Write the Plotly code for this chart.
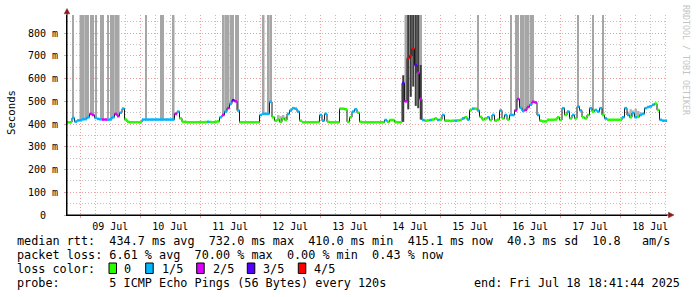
import pandas as pd
import plotly.graph_objects as go

# ---------------- data ----------------
start = pd.Timestamp("2025-07-08 18:41:44")
end = pd.Timestamp("2025-07-18 18:41:44")

# hourly median RTT (ms), starting at `start`
median_ms = [
    # 08/09 Jul
    408, 408, 427, 411, 416, 417, 421, 422, 430, 445,
    440, 427, 423, 421, 420, 420, 419, 421, 430, 445,
    435, 450, 468, 420, 410, 408, 408, 408, 408, 408,
    420, 420, 420, 420, 420, 420, 420, 420, 420, 420,
    420, 420, 420, 445, 455, 425, 410, 409,
    # 10/11 Jul
    408, 408, 408, 408, 408, 409, 408, 409, 410, 409,
    408, 410, 412, 430, 440, 455, 470, 490, 505, 500,
    460, 408, 408, 408, 408, 408, 408, 408, 408, 440,
    445, 445, 445, 498, 430, 415, 420, 410, 425, 418,
    445, 460, 470, 468, 455, 415, 408, 408,
    # 12/13 Jul
    408, 408, 408, 408, 409, 440, 415, 445, 410, 408,
    408, 408, 408, 468, 468, 465, 410, 430, 455, 465,
    450, 410, 408, 408, 408, 408, 408, 408, 408, 408,
    408, 418, 410, 418, 418, 409, 408, 408, 580, 500,
    690, 700, 732, 660, 625, 510, 418, 415,
    # 14/15 Jul
    416, 418, 420, 425, 418, 420, 440, 415, 415, 414,
    415, 415, 416, 418, 425, 430, 420, 462, 468, 468,
    460, 432, 420, 425, 430, 418, 440, 415, 420, 460,
    425, 440, 420, 440, 440, 460, 510, 472, 458, 462,
    475, 485, 498, 495, 440, 415, 412, 412,
    # 16/17/18 Jul
    419, 419, 419, 420, 430, 418, 470, 440, 455, 425,
    440, 425, 477, 460, 430, 425, 440, 470, 455, 462,
    455, 470, 440, 425, 419, 419, 419, 419, 419, 419,
    430, 470, 440, 430, 448, 430, 432, 440, 445, 470,
    475, 478, 485, 490, 462, 419, 415, 415,
]

# lost pings out of 5, per hour
loss_level = [
    0, 0, 1, 1, 1, 1, 1, 1, 1, 2,
    2, 1, 1, 1, 2, 2, 1, 1, 1, 2,
    2, 1, 1, 0, 0, 0, 0, 0, 0, 0,
    1, 1, 1, 1, 1, 1, 1, 1, 1, 1,
    1, 1, 1, 2, 1, 0, 0, 0,
    0, 0, 0, 0, 0, 0, 0, 0, 1, 0,
    0, 0, 0, 1, 2, 1, 2, 1, 3, 2,
    1, 0, 0, 0, 0, 0, 0, 0, 0, 1,
    1, 1, 1, 1, 0, 0, 0, 0, 0, 0,
    1, 1, 1, 1, 1, 0, 0, 0,
    0, 0, 0, 0, 0, 1, 1, 1, 0, 0,
    0, 0, 0, 0, 0, 0, 0, 0, 1, 1,
    0, 0, 0, 0, 0, 0, 0, 0, 0, 0,
    0, 1, 0, 0, 0, 0, 0, 0, 3, 2,
    4, 4, 4, 3, 2, 2, 1, 0,
    0, 1, 0, 0, 1, 0, 1, 0, 0, 0,
    0, 1, 0, 0, 1, 0, 1, 0, 1, 0,
    1, 0, 0, 0, 1, 0, 1, 0, 0, 1,
    0, 1, 0, 1, 1, 2, 2, 1, 1, 2,
    2, 1, 2, 2, 1, 0, 0, 0,
    0, 0, 0, 0, 0, 0, 1, 0, 1, 0,
    1, 0, 1, 1, 0, 0, 0, 1, 0, 1,
    1, 1, 0, 1, 0, 0, 0, 0, 0, 0,
    1, 1, 1, 0, 1, 1, 0, 1, 1, 1,
    1, 1, 1, 0, 0, 1, 1, 1,
]

loss_names = ["0", "1/5", "2/5", "3/5", "4/5"]
loss_colors = ["#26ff00", "#00b8ff", "#dd00ff", "#5500ff", "#ff0000"]

# hours with lost pings (smoke up to the top): wide blocks and single spikes
loss_block_hours = [5, 6, 7, 18, 19, 20, 42, 62, 63, 64, 78, 80, 81,
                    135, 136, 137, 138, 139, 140, 141, 182, 183, 184]
loss_thin_hours = [2, 8, 9, 10, 11, 13, 14, 16, 17, 31, 37, 38, 65, 66, 67, 68,
                   164, 177, 179, 180, 181, 185, 186, 204, 210, 214]

# dense (dark) smoke on 14 Jul
dark_hours = [134, 136, 137, 138, 139, 140, 141]
dark_lo = [410, 465, 520, 565, 480, 470, 420]
dark_hi = [615, 880, 880, 880, 880, 880, 660]

# light smoke spread (no loss)
spread_hours = [84, 85, 86, 87, 224, 225, 226, 227, 228, 229, 230]
spread_hi = [440, 435, 440, 432, 455, 465, 460, 468, 458, 452, 448]

y_top = 880
ytick_vals = [0, 100, 200, 300, 400, 500, 600, 700, 800]
ytick_text = ["0\u00a0\u00a0", "100 m", "200 m", "300 m", "400 m",
              "500 m", "600 m", "700 m", "800 m"]

stats_lines = [
    "median rtt:  434.7 ms avg  732.0 ms max  410.0 ms min  415.1 ms now  40.3 ms sd  10.8   am/s",
    "packet loss: 6.61 % avg  70.00 % max  0.00 % min  0.43 % now",
    "loss color:",
    "probe:       5 ICMP Echo Pings (56 Bytes) every 120s",
]
end_text = "end: Fri Jul 18 18:41:44 2025"

# ---------------- figure ----------------
W, H = 697, 297
L, R, T, B = 67, 30, 15, 82
PW, PH = W - L - R, H - T - B
HOUR = pd.Timedelta(hours=1)
HOUR_MS = 3600000
MONO = "DejaVu Sans Mono"


def px(x):
    return (x - L) / PW


def py(y):
    return (T + PH - y) / PH


def t_of(h, frac=0.0):
    return start + pd.Timedelta(hours=h + frac)


fig = go.Figure()


def add_bars(hlist, lo, hi, width_h, color):
    fig.add_trace(go.Bar(
        x=[t_of(h, 0.5) for h in hlist],
        base=lo,
        y=[b - a for a, b in zip(lo, hi)],
        width=[width_h * HOUR_MS] * len(hlist),
        marker=dict(color=color, line=dict(width=0)),
        hoverinfo="skip", showlegend=False,
    ))


LIGHT = "#a6a6a6"
add_bars(spread_hours, [median_ms[h] for h in spread_hours], spread_hi, 1.0, "#b4b4b4")
add_bars(loss_block_hours, [median_ms[h] for h in loss_block_hours],
         [y_top] * len(loss_block_hours), 1.0, LIGHT)
add_bars(loss_thin_hours, [median_ms[h] for h in loss_thin_hours],
         [y_top] * len(loss_thin_hours), 0.45, LIGHT)
add_bars(dark_hours, dark_lo, dark_hi, 0.8, "#3c3c3c")

# dark step connectors
times = [t_of(h) for h in range(len(median_ms))]
fig.add_trace(go.Scatter(
    x=times + [t_of(len(median_ms))], y=median_ms + [median_ms[-1]],
    mode="lines", line=dict(color="#1a1a1a", width=1, shape="hv"),
    hoverinfo="skip", showlegend=False,
))

# coloured median segments by loss
for lvl, col in enumerate(loss_colors):
    xs, ys = [], []
    for h, (v, l) in enumerate(zip(median_ms, loss_level)):
        if l == lvl:
            xs += [t_of(h), t_of(h + 1), None]
            ys += [v, v, None]
    if xs:
        fig.add_trace(go.Scatter(
            x=xs, y=ys, mode="lines", line=dict(color=col, width=2.6),
            hoverinfo="skip", showlegend=False,
        ))

MAJOR = "rgba(225,110,110,0.65)"
MINOR = "rgba(150,150,150,0.6)"
DOT = "1px,2px"

fig.update_layout(
    width=W, height=H,
    margin=dict(l=L, r=R, t=T, b=B, pad=0),
    paper_bgcolor="white", plot_bgcolor="white",
    barmode="overlay", showlegend=False,
    font=dict(family=MONO, size=10, color="#000000"),
    xaxis=dict(
        type="date", range=[start, end],
        tickmode="linear", tick0="2025-07-09", dtick=86400000,
        ticklabelmode="period", tickformat="%d %b",
        showgrid=True, gridcolor=MAJOR, griddash=DOT, gridwidth=1,
        showline=True, linecolor="#000000", linewidth=1,
        ticks="outside", ticklen=2, tickcolor=MAJOR,
        tickfont=dict(family=MONO, size=10, color="#000000"),
        minor=dict(tick0="2025-07-09", dtick=6 * HOUR_MS, showgrid=True,
                   gridcolor=MINOR, griddash=DOT, gridwidth=1, ticks=""),
        zeroline=False, fixedrange=True,
    ),
    yaxis=dict(
        range=[0, y_top], tickmode="array", tickvals=ytick_vals, ticktext=ytick_text,
        showgrid=True, gridcolor=MAJOR, griddash=DOT, gridwidth=1,
        showline=True, linecolor="#000000", linewidth=1,
        ticks="outside", ticklen=2, tickcolor=MAJOR,
        ticklabelstandoff=4,
        tickfont=dict(family=MONO, size=10, color="#000000"),
        minor=dict(tickmode="array", tickvals=[v + 50 for v in ytick_vals],
                   showgrid=True, gridcolor=MINOR, griddash=DOT, gridwidth=1, ticks=""),
        zeroline=False, fixedrange=True,
    ),
)

ann = []
# y title
ann.append(dict(x=px(11), y=py(113), xref="paper", yref="paper", text="Seconds",
                textangle=-90, showarrow=False, font=dict(family=MONO, size=10.7),
                xanchor="center", yanchor="middle"))
# rrdtool credit
ann.append(dict(x=px(686), y=py(60), xref="paper", yref="paper",
                text="RRDTOOL / TOBI OETIKER", textangle=90, showarrow=False,
                font=dict(family=MONO, size=8.3, color="#c4c4c4"),
                xanchor="center", yanchor="middle"))

line_y = [241, 255.3, 269.3, 283]
for txt, yy in zip(stats_lines, line_y):
    ann.append(dict(x=px(15), y=py(yy), xref="paper", yref="paper",
                    text=txt.replace(" ", "\u00a0"), showarrow=False,
                    font=dict(family=MONO, size=11.8, color="#000000"),
                    xanchor="left", yanchor="middle"))
ann.append(dict(x=px(682), y=py(283), xref="paper", yref="paper",
                text=end_text.replace(" ", "\u00a0"), showarrow=False,
                font=dict(family=MONO, size=11.8, color="#000000"),
                xanchor="right", yanchor="middle"))

sq_x = [109, 145.7, 196.7, 247.3, 298.3]
lab_x = [123.3, 160.7, 211.7, 262.3, 313.3]
shapes = []
for name, col, sx, lx in zip(loss_names, loss_colors, sq_x, lab_x):
    shapes.append(dict(type="rect", xref="paper", yref="paper",
                       x0=px(sx), x1=px(sx + 7.5), y0=py(273.5), y1=py(263),
                       fillcolor=col, line=dict(color="#000000", width=1)))
    ann.append(dict(x=px(lx - 1), y=py(269.3), xref="paper", yref="paper",
                    text=name, showarrow=False,
                    font=dict(family=MONO, size=11.8, color="#000000"),
                    xanchor="left", yanchor="middle"))

# axis arrows
ARROW = "#8b1a1a"
shapes.append(dict(type="line", xref="paper", yref="paper",
                   x0=px(67), x1=px(67), y0=py(215), y1=py(12),
                   line=dict(color="#000000", width=1)))
shapes.append(dict(type="line", xref="paper", yref="paper",
                   x0=px(67), x1=px(670), y0=py(215), y1=py(215),
                   line=dict(color="#000000", width=1)))
shapes.append(dict(type="path", xref="paper", yref="paper",
                   path=f"M {px(67)},{py(8.5)} L {px(64.2)},{py(13.8)} L {px(69.8)},{py(13.8)} Z",
                   fillcolor=ARROW, line=dict(color=ARROW, width=0.5)))
shapes.append(dict(type="path", xref="paper", yref="paper",
                   path=f"M {px(674)},{py(215)} L {px(668.5)},{py(212.2)} L {px(668.5)},{py(217.8)} Z",
                   fillcolor=ARROW, line=dict(color=ARROW, width=0.5)))

fig.update_layout(annotations=ann, shapes=shapes)

fig.write_html("out.html")
